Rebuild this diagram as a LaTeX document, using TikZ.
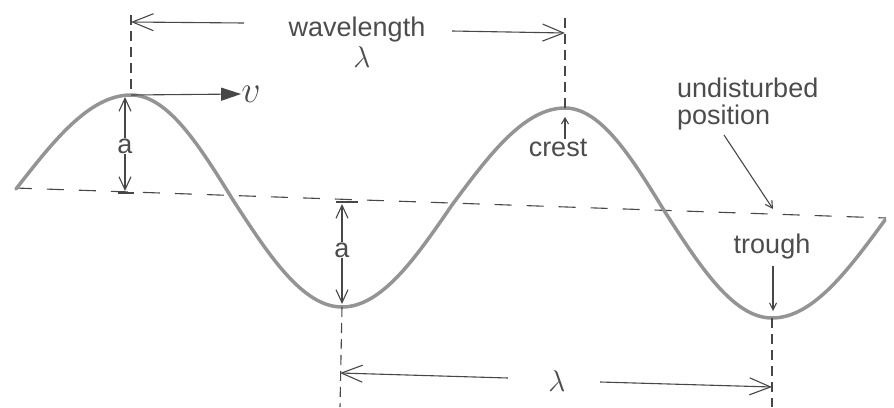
\RequirePackage{fix-cm}
\documentclass[tikz,border=0pt]{standalone}
\usepackage{fontspec}
\setmainfont{Liberation Sans}
\usetikzlibrary{arrows.meta}
\begin{document}
\begin{tikzpicture}[x=1pt,y=-1pt,
  ink/.style={draw=black!72, line width=1.1pt},
  barb/.style={ink, -{Straight Barb[length=13pt,width=12pt]}},
  bigbarb/.style={ink, -{Straight Barb[length=21pt,width=17pt]}},
  vdash/.style={ink, dash pattern=on 10pt off 6pt},
  hdash/.style={ink, dash pattern=on 17pt off 15pt},
  wave/.style={draw=black!42, line width=3.5pt, line cap=round},
  lbl/.style={text=black!70, font=\fontsize{27}{27}\selectfont, inner sep=0pt},
]
\useasboundingbox (0,0) rectangle (894,407);
% key points
\coordinate (axisL) at (15,188);
\coordinate (axisR) at (886,218);
\coordinate (crestA) at (131,95);
\coordinate (crestB) at (565,108);
\coordinate (troughA) at (342,307);
\coordinate (troughB) at (772,318);
\coordinate (topA) at (131,15);
\coordinate (topB) at (565,18);
\coordinate (botA) at (340,407);
\coordinate (botB) at (772,407);
% undisturbed axis
\draw[hdash] (axisL) -- (axisR);
% wave
\draw[wave] (16,189) sin (crestA) cos (233,200) sin (troughA) cos (452,205)
  sin (crestB) cos (665,212) sin (troughB) cos (885,220);
% vertical dashed guides
\draw[vdash] (topA) -- (crestA);
\draw[vdash] (topB) -- (crestB);
\draw[vdash] (troughA) -- (botA);
\draw[vdash] (troughB) -- (botB);
% wavelength (top)
\node[lbl] (wl) at (357,30) {wavelength};
\node[lbl, font=\fontsize{30}{30}\selectfont] (lamT) at (362,57) {$\lambda$};
\coordinate (wlL) at (131,22);
\coordinate (wlR) at (565,33);
\draw[bigbarb] (244,23) -- (wlL);
\draw[bigbarb] (452,31) -- (wlR);
% velocity
\node[lbl, font=\fontsize{38}{38}\selectfont] (v) at (251,94) {$v$};
\draw[ink, -{Triangle[length=20pt,width=13pt]}] (crestA) -- (v.west);
% amplitude a (left)
\node[lbl] (a1) at (125,146) {a};
\coordinate (a1top) at (125,97);
\coordinate (a1bot) at (125,191);
\draw[barb] (a1.north) -- (a1top);
\draw[barb] (a1.south) -- (a1bot);
\draw[ink] (118,193) -- (134,193);
% amplitude a (middle)
\node[lbl] (a2) at (342,250) {a};
\coordinate (a2top) at (342,204);
\coordinate (a2bot) at (342,304);
\draw[barb] (a2.north) -- (a2top);
\draw[barb] (a2.south) -- (a2bot);
\draw[ink] (336,202) -- (358,202);
% crest
\node[lbl] (crest) at (558,148) {crest};
\draw[ink, -{Straight Barb[length=6pt,width=7pt]}] (crest.north -| crestB) -- ++(0,-22);
% undisturbed position
\node[lbl, align=left, anchor=north west] (und) at (677,78) {undisturbed\\position};
\coordinate (axispt) at (773,209);
\draw[ink, -{Straight Barb[length=7pt,width=8pt]}] (724,135) -- (axispt);
% trough
\node[lbl] (trough) at (772,247) {trough};
\draw[ink, -{Straight Barb[length=7pt,width=7pt]}] (773,266) -- (773,311);
% wavelength (bottom)
\node[lbl, font=\fontsize{30}{30}\selectfont] (lamB) at (557,381) {$\lambda$};
\coordinate (lbL) at (340,373);
\coordinate (lbR) at (772,387);
\draw[bigbarb] (508,378) -- (lbL);
\draw[bigbarb] (600,382) -- (lbR);
\end{tikzpicture}
\end{document}
